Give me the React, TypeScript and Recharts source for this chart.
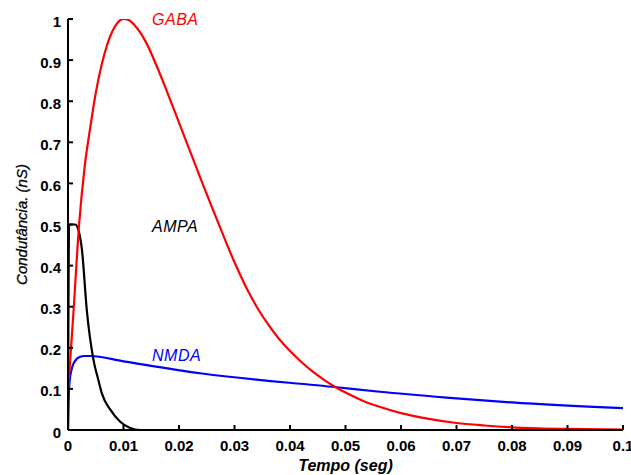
import React from 'react';
import { LineChart, Line, XAxis, YAxis, ReferenceDot, Label } from 'recharts';

// ---- data (time in seconds, conductance in nS) ----
const gabaTime = [0, 0.001, 0.002, 0.003, 0.004, 0.005, 0.006, 0.007, 0.008, 0.009, 0.01, 0.011, 0.012, 0.014, 0.016, 0.018, 0.02, 0.022, 0.024, 0.026, 0.028, 0.03, 0.032, 0.034, 0.036, 0.038, 0.04, 0.042, 0.044, 0.046, 0.048, 0.05, 0.053, 0.056, 0.06, 0.065, 0.07, 0.075, 0.08, 0.09, 0.1];
const gabaValues = [0.09, 0.29, 0.5, 0.64, 0.735, 0.82, 0.885, 0.935, 0.97, 0.992, 1.0, 0.997, 0.985, 0.945, 0.885, 0.818, 0.748, 0.678, 0.608, 0.54, 0.473, 0.408, 0.35, 0.3, 0.258, 0.222, 0.192, 0.166, 0.143, 0.123, 0.106, 0.091, 0.072, 0.057, 0.041, 0.027, 0.017, 0.011, 0.0065, 0.0025, 0.001];

const ampaTime = [0, 0.0002, 0.0013, 0.0018, 0.0025, 0.0034, 0.0046, 0.0055, 0.0061, 0.0076, 0.0094, 0.0112, 0.013, 0.1];
const ampaValues = [0, 0.5, 0.5, 0.49, 0.44, 0.29, 0.17, 0.12, 0.089, 0.05, 0.02, 0.005, 0, 0];

const nmdaTime = [0, 0.0001, 0.0003, 0.0006, 0.001, 0.0015, 0.002, 0.003, 0.004, 0.01, 0.0238, 0.0484, 0.0562, 0.0682, 0.08, 0.1];
const nmdaValues = [0, 0.07, 0.12, 0.145, 0.162, 0.172, 0.177, 0.18, 0.18, 0.167, 0.138, 0.104, 0.093, 0.079, 0.067, 0.053];

const xTicks = [0, 0.01, 0.02, 0.03, 0.04, 0.05, 0.06, 0.07, 0.08, 0.09, 0.1];
const yTicks = [0, 0.1, 0.2, 0.3, 0.4, 0.5, 0.6, 0.7, 0.8, 0.9, 1];

const seriesLabels = [
  { name: 'GABA', t: 0.01514, v: 0.998, color: '#ff0000' },
  { name: 'AMPA', t: 0.01514, v: 0.495, color: '#000000' },
  { name: 'NMDA', t: 0.01514, v: 0.182, color: '#0000ff' },
];

const toPoints = (ts: number[], vs: number[]) => ts.map((t, i) => ({ t, g: vs[i] }));
const gabaData = toPoints(gabaTime, gabaValues);
const ampaData = toPoints(ampaTime, ampaValues);
const nmdaData = toPoints(nmdaTime, nmdaValues);

const FONT = '"Liberation Sans", Arial, sans-serif';

const YTick = (props: any) => {
  const { x, y, payload } = props;
  return (
    <g>
      <line x1={x} x2={x + 5} y1={y} y2={y} stroke="#000" strokeWidth={2} />
      <text x={x - 7} y={y + 2} textAnchor="end" dominantBaseline="central" fontFamily={FONT} fontWeight="bold" fontSize={15} fill="#000">
        {String(payload.value)}
      </text>
    </g>
  );
};

const XTick = (props: any) => {
  const { x, y, payload } = props;
  return (
    <g>
      <line x1={x} x2={x} y1={y} y2={y - 5} stroke="#000" strokeWidth={2} />
      <text x={x} y={y + 15} textAnchor="middle" dominantBaseline="central" fontFamily={FONT} fontWeight="bold" fontSize={15} fill="#000">
        {String(payload.value)}
      </text>
    </g>
  );
};

export default function App() {
  return (
    <div style={{ position: 'absolute', left: 0, top: 0 }}>
      <LineChart width={631} height={475} margin={{ top: 19, right: 8, bottom: 0, left: 0 }}>
        <XAxis
          dataKey="t"
          type="number"
          domain={[0, 0.1]}
          ticks={xTicks}
          allowDataOverflow
          height={45}
          axisLine={{ stroke: '#000', strokeWidth: 2 }}
          tickLine={false}
          tickSize={0}
          tickMargin={0}
          tick={<XTick />}
          interval={0}
        >
          <Label
            content={(p: any) => {
              const vb = p.viewBox;
              return (
                <text x={vb.x + vb.width / 2} y={vb.y + 35} textAnchor="middle" dominantBaseline="central" fontFamily={FONT} fontWeight="bold" fontStyle="italic" fontSize={16} fill="#000">
                  Tempo (seg)
                </text>
              );
            }}
          />
        </XAxis>
        <YAxis
          type="number"
          domain={[0, 1]}
          ticks={yTicks}
          allowDataOverflow
          width={68}
          axisLine={{ stroke: '#000', strokeWidth: 2 }}
          tickLine={false}
          tickSize={0}
          tickMargin={0}
          tick={<YTick />}
          interval={0}
        >
          <Label
            content={(p: any) => {
              const vb = p.viewBox;
              const cx = vb.x + 21;
              const cy = vb.y + vb.height / 2;
              return (
                <text x={cx} y={cy} transform={`rotate(-90 ${cx} ${cy})`} textAnchor="middle" dominantBaseline="central" fontFamily={FONT} fontStyle="italic" fontSize={15} fill="#000" stroke="#000" strokeWidth={0.3}>
                  Condutância. (nS)
                </text>
              );
            }}
          />
        </YAxis>
        <Line data={nmdaData} dataKey="g" type="monotone" stroke="#0000ff" strokeWidth={2.2} dot={false} isAnimationActive={false} />
        <Line data={ampaData} dataKey="g" type="monotone" stroke="#000000" strokeWidth={2.2} dot={false} isAnimationActive={false} />
        <Line data={gabaData} dataKey="g" type="monotone" stroke="#ff0000" strokeWidth={2.2} dot={false} isAnimationActive={false} />
        {seriesLabels.map((s) => (
          <ReferenceDot
            key={s.name}
            x={s.t}
            y={s.v}
            r={0}
            fill="none"
            stroke="none"
            label={(p: any) => (
              <text x={p.viewBox.x} y={p.viewBox.y} dominantBaseline="central" fontFamily={FONT} fontStyle="italic" fontSize={16} letterSpacing={0.5} fill={s.color}>
                {s.name}
              </text>
            )}
          />
        ))}
      </LineChart>
    </div>
  );
}
